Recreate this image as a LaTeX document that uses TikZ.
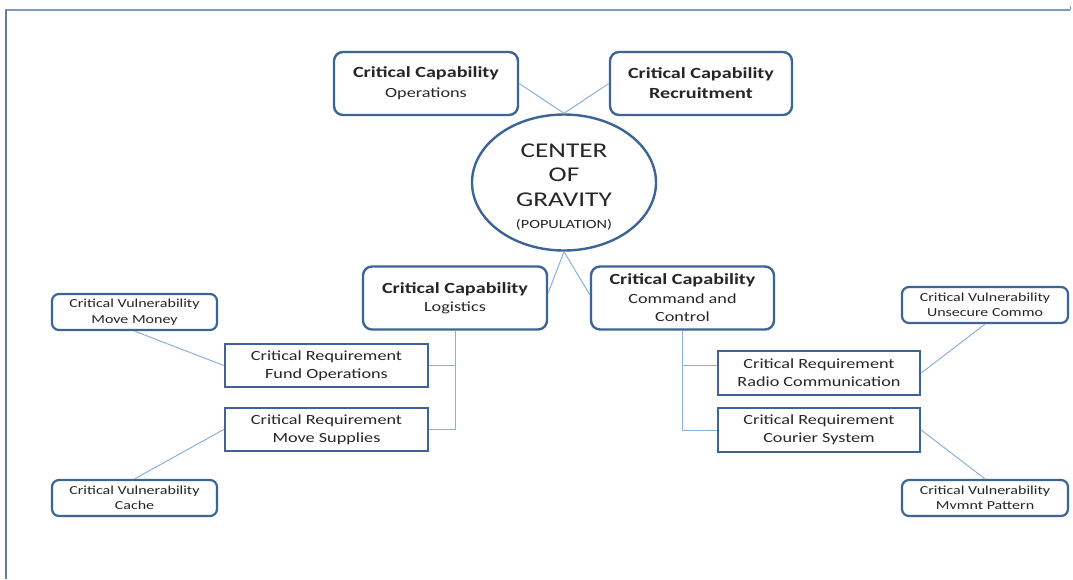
\documentclass[tikz,border=0pt]{standalone}
\usepackage{fontspec}
\setmainfont{Carlito}[FakeStretch=1.3]
\usetikzlibrary{shapes.geometric,calc}
\definecolor{boxline}{HTML}{3C6496}
\definecolor{linkline}{HTML}{8CB0DC}
\definecolor{frameline}{HTML}{7F9AC0}
\begin{document}
\begin{tikzpicture}[x=1pt,y=-1pt,
  every node/.style={inner sep=0pt, align=center, text=black!85},
  capbox/.style={draw=boxline, line width=2.4pt, rounded corners=9pt, fill=white,
                 minimum width=184pt, minimum height=63pt,
                 font=\fontsize{14}{18.5}\selectfont},
  reqbox/.style={draw=boxline, line width=2.4pt, fill=white,
                 minimum width=203pt, minimum height=43pt,
                 font=\fontsize{14}{18}\selectfont},
  vulbox/.style={draw=boxline, line width=2.2pt, rounded corners=7pt, fill=white,
                 minimum width=165pt, minimum height=36pt,
                 font=\fontsize{12.3}{15.5}\selectfont},
  cogshape/.style={ellipse, draw=boxline, line width=2.4pt, fill=white,
                 minimum width=184pt, minimum height=136pt},
  link/.style={draw=linkline, line width=1pt},
]
\newcommand{\capttl}{{\bfseries\fontsize{15.5}{18.5}\selectfont Critical Capability}}
\useasboundingbox (0,0) rectangle (1073,579);

% page frame
\draw[frameline, line width=1.2pt] (5,10) -- (1070,10);
\draw[frameline!80!black, line width=2pt] (6,10) -- (6,579);
\draw[frameline, line width=1pt] (1070,6) -- (1070,10);

% capabilities and the centre of gravity
\node[capbox] (ops) at (426,83.5) {\capttl\\[1.5pt]Operations};
\node[capbox, minimum width=182pt] (rec) at (701,83.5)
  {\capttl\\[1.5pt]{\bfseries\fontsize{15.5}{18.5}\selectfont Recruitment}};
\node[cogshape] (cog) at (564,182.5) {};
\node[capbox] (log) at (455,298) {\capttl\\Logistics};
\node[capbox, minimum width=183pt] (cc) at (682.5,298)
  {\capttl\\Command and\\Control};

% requirements
\node[reqbox] (fund) at (326.5,365.5) {Critical Requirement\\Fund Operations};
\node[reqbox] (sup) at (326.5,429.5) {Critical Requirement\\Move Supplies};
\node[reqbox, minimum width=202pt, minimum height=44pt] (radio) at (819,373)
  {Critical Requirement\\Radio Communication};
\node[reqbox, minimum width=202pt, minimum height=44pt] (cour) at (819,430)
  {Critical Requirement\\Courier System};

% vulnerabilities
\node[vulbox] (mm) at (134.5,312) {Critical Vulnerability\\Move Money};
\node[vulbox] (cache) at (134.5,498) {Critical Vulnerability\\Cache};
\node[vulbox, minimum width=166pt] (uns) at (985,305) {Critical Vulnerability\\Unsecure Commo};
\node[vulbox, minimum width=166pt] (mv) at (985,498) {Critical Vulnerability\\Mvmnt Pattern};

\node[font=\fontsize{21}{24.5}\selectfont] (cogtext) at (564,187)
  {CENTER\\OF\\GRAVITY\\[-2pt]\fontsize{12.5}{15}\selectfont (POPULATION)};

% links
\draw[link] (ops.east) -- (cog.north);
\draw[link] (rec.west) -- (cog.north);
\draw[link] (cog.south) -- ($(log.north east)!0.42!(log.south east)$);
\draw[link] (cog.south) -- ($(cc.north west)!0.45!(cc.south west)$);
\draw[link] (log.south) |- (fund.east);
\draw[link] (log.south) |- (sup.east);
\draw[link] (cc.south) |- ($(radio.north west)!0.34!(radio.south west)$);
\draw[link] (cc.south) |- (cour.west);
\draw[link] (mm.south) -- (fund.west);
\draw[link] (cache.north) -- (sup.west);
\draw[link] (radio.east) -- (uns.south);
\draw[link] (cour.east) -- (mv.north);
\end{tikzpicture}
\end{document}
